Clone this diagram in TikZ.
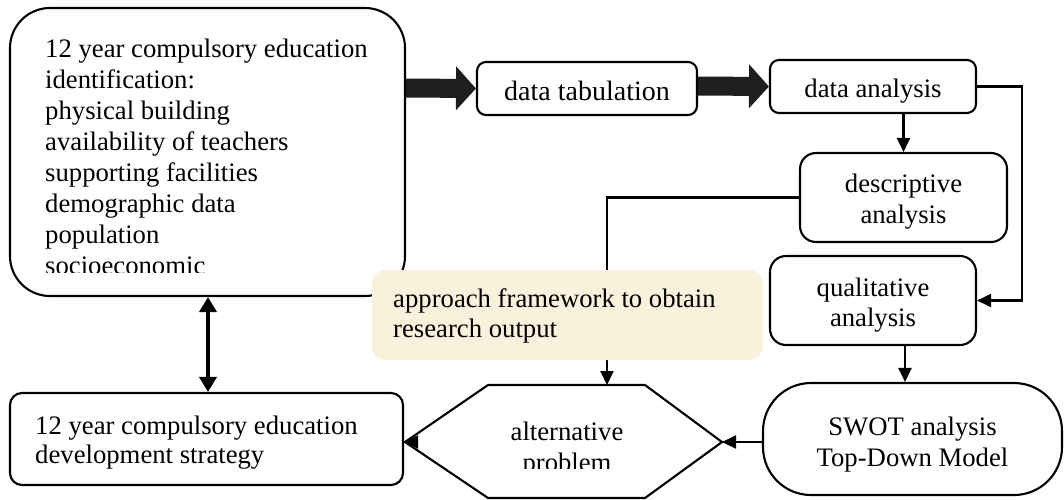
\documentclass[tikz,border=0pt]{standalone}
\usepackage{fontspec}
\setmainfont{Liberation Serif}
\usetikzlibrary{arrows.meta}
\definecolor{apprfill}{RGB}{250,241,220}
\definecolor{blockarrow}{RGB}{30,30,30}
\newcommand{\tstrut}[1]{\rule{0pt}{#1}}
\begin{document}
\begin{tikzpicture}[x=1pt,y=-1pt,
  txt/.style={font=\fontsize{26.7}{30.5}\selectfont},
  boxr/.style={draw, line width=2.1pt, rectangle, inner sep=0pt, txt, align=center},
  conn/.style={line width=2.2pt, -{Triangle[width=13pt,length=14pt]}},
  block/.style={line width=19pt, draw=blockarrow, -{Triangle[width=43pt,length=20pt]}},
]
\useasboundingbox (0,0) rectangle (1064,499);

% nodes
\node[boxr, rounded corners=40pt, minimum width=395pt, minimum height=288pt] (ident) at (207.5,152) {};
\begin{scope}
  \clip (10,8) rectangle (405,272);
  \node[font=\fontsize{26.7}{31}\selectfont, anchor=north west, align=left, inner sep=0pt] (identtxt) at (45,39)
    {12 year compulsory education\\identification:\\physical building\\availability of teachers\\supporting facilities\\demographic data\\population\\socioeconomic};
\end{scope}

\node[boxr, rounded corners=9pt, minimum width=220pt, minimum height=53pt, font=\fontsize{28}{32}\selectfont] (tab) at (587,88.5) {\tstrut{25pt}data tabulation};
\node[boxr, rounded corners=9pt, minimum width=206pt, minimum height=53pt] (ana) at (873,86.5) {\tstrut{27pt}data analysis};
\node[boxr, rounded corners=16pt, minimum width=207pt, minimum height=89pt] (desc) at (903.5,197.5) {\tstrut{27pt}descriptive\\analysis};
\node[boxr, rounded corners=16pt, minimum width=206pt, minimum height=89pt] (qual) at (873,300.5) {\tstrut{28pt}qualitative\\analysis};
\node[boxr, rounded corners=48pt, minimum width=299pt, minimum height=112pt] (swot) at (912.5,439) {\tstrut{30pt}SWOT analysis\\Top-Down Model};
\node[boxr, rounded corners=12pt, minimum width=393pt, minimum height=92pt] (strat) at (206.5,439) {};
\node[font=\fontsize{26.7}{29}\selectfont, anchor=west, align=left, inner sep=0pt] (strattxt) at (35,443) {12 year compulsory education\\development strategy};

% hexagon
\coordinate (hexL) at (405,442);
\coordinate (hexR) at (722,442);
\coordinate (hexT) at (607,385);
\draw[line width=2.1pt, line join=miter] (hexL) -- (488,385) -- (645,385) -- (hexR) -- (645,498) -- (488,498) -- cycle;
\begin{scope}
  \clip (420,390) rectangle (710,468);
  \node[txt, anchor=north, align=center, inner sep=0pt] (hex) at (567,422) {alternative\\problem};
\end{scope}

% block arrows
\draw[block] (ident.east |- 0,88) -- (tab.west);
\draw[block] (tab.east |- 0,86) -- (ana.west);

% connectors
\draw[conn] (ana.east) -- ++(45,0) |- (qual.east);
\draw[conn] (desc.north |- ana.south) -- (desc.north);
\draw[conn] (desc.west) -- (hexT |- desc.west) -- (hexT);
\draw[conn] ([xshift=32pt]qual.south) -- ([xshift=32pt]qual.south |- swot.north);
\draw[conn] (swot.west |- hexR) -- (hexR);
\draw[conn] (hexL) -- (strat.east |- hexL);
\draw[line width=4pt, {Triangle[width=17pt,length=15pt]}-{Triangle[width=17pt,length=15pt]}] (ident.south -| 208,0) -- (strat.north -| 208,0);

% approach box
\node[fill=apprfill, rounded corners=14pt, minimum width=391pt, minimum height=90pt, inner sep=0pt] (appr) at (567.5,315) {};
\node[txt, anchor=west, align=left, inner sep=0pt] (apprtxt) at (393,316) {approach framework to obtain\\research output};
\end{tikzpicture}
\end{document}
